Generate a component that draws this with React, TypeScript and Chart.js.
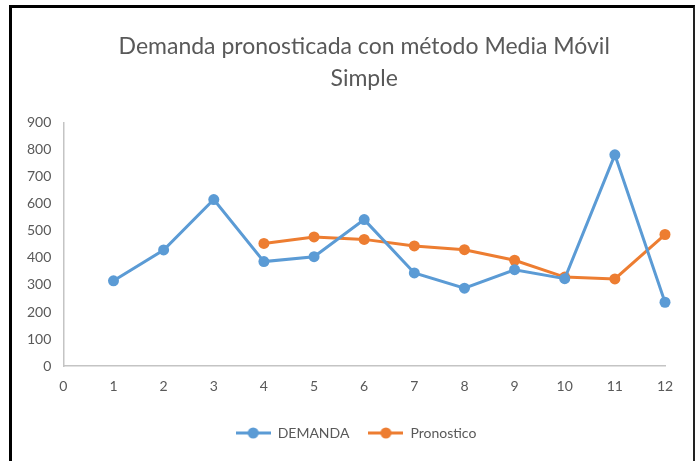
import { useEffect, useRef } from "react";
import { Chart, registerables } from "chart.js";

Chart.register(...registerables);

const periods = [1, 2, 3, 4, 5, 6, 7, 8, 9, 10, 11, 12];
const demanda = [315, 429, 615, 386, 404, 541, 344, 288, 356, 323, 780, 236];
const pronostico: (number | null)[] = [null, null, null, 453, 477, 468, 444, 430, 391, 329, 322, 486];
const titleLines = ["Demanda pronosticada con método Media Móvil", "Simple"];
const seriesNames = ["DEMANDA", "Pronostico"];

const BLUE = "#5B9BD5";
const ORANGE = "#ED7D31";
const TEXT = "#595959";
const AXIS = "#c4c4c4";
const FONT = "Lato, 'Open Sans', sans-serif";

function legendIcon(color: string) {
  const c = document.createElement("canvas");
  c.width = 35;
  c.height = 12;
  const ctx = c.getContext("2d")!;
  ctx.strokeStyle = color;
  ctx.lineWidth = 3;
  ctx.beginPath();
  ctx.moveTo(0, 6);
  ctx.lineTo(35, 6);
  ctx.stroke();
  ctx.fillStyle = color;
  ctx.beginPath();
  ctx.arc(17.5, 6, 5.5, 0, Math.PI * 2);
  ctx.fill();
  return c;
}

export default function App() {
  const ref = useRef<HTMLCanvasElement | null>(null);

  useEffect(() => {
    if (!ref.current) return;
    const icons = [legendIcon(BLUE), legendIcon(ORANGE)];
    const demandaPts = periods.map((p, i) => ({ x: p, y: demanda[i] }));
    const pronPts = periods
      .map((p, i) => ({ x: p, y: pronostico[i] }))
      .filter((d) => d.y !== null) as { x: number; y: number }[];

    const chart = new Chart(ref.current, {
      type: "line",
      data: {
        datasets: [
          {
            label: seriesNames[0],
            data: demandaPts,
            borderColor: BLUE,
            backgroundColor: BLUE,
            borderWidth: 3,
            pointRadius: 5.5,
            pointBorderWidth: 0,
            pointBackgroundColor: BLUE,
            tension: 0,
            clip: false as any,
          },
          {
            label: seriesNames[1],
            data: pronPts,
            borderColor: ORANGE,
            backgroundColor: ORANGE,
            borderWidth: 3,
            pointRadius: 5.5,
            pointBorderWidth: 0,
            pointBackgroundColor: ORANGE,
            tension: 0,
            clip: false as any,
          },
        ],
      },
      options: {
        animation: false,
        responsive: false,
        layout: { padding: { left: 3, right: 3, top: 0, bottom: 11 } },
        plugins: {
          title: {
            display: true,
            text: titleLines,
            fullSize: false,
            color: TEXT,
            font: { family: FONT, size: 23, weight: "normal", lineHeight: 1.42 },
            padding: { top: 22, bottom: 27 },
          },
          legend: {
            position: "bottom",
            fullSize: true,
            labels: {
              color: TEXT,
              font: { family: FONT, size: 14 },
              usePointStyle: true,
              pointStyleWidth: 35,
              padding: 19,
              generateLabels: (ch: any) =>
                ch.data.datasets.map((ds: any, i: number) => ({
                  text: ds.label,
                  fillStyle: ds.borderColor,
                  strokeStyle: ds.borderColor,
                  lineWidth: 0,
                  pointStyle: icons[i],
                  hidden: false,
                  datasetIndex: i,
                  fontColor: TEXT,
                })),
            },
          },
          tooltip: { enabled: false },
        },
        scales: {
          x: {
            type: "linear",
            min: 0,
            max: 12,
            ticks: { stepSize: 1, color: TEXT, font: { family: FONT, size: 14 }, padding: 12 },
            grid: { display: false, drawTicks: false },
            border: { color: AXIS, width: 1.5 },
          },
          y: {
            min: 0,
            max: 900,
            ticks: { stepSize: 100, color: TEXT, font: { family: FONT, size: 14 }, padding: 12 },
            grid: { display: false, drawTicks: false },
            border: { color: AXIS, width: 1.5 },
          },
          ySpace: {
            type: "linear",
            position: "right",
            display: true,
            min: 0,
            max: 900,
            ticks: { display: false },
            grid: { display: false, drawTicks: false },
            border: { display: false },
            afterFit: (scale: any) => {
              scale.width = 32;
            },
          } as any,
        },
      },
    });
    return () => chart.destroy();
  }, []);

  return (
    <div style={{ position: "fixed", left: 0, top: 0, width: 695, height: 461, overflow: "hidden", background: "#fff" }}>
      <div
        style={{
          position: "absolute",
          left: 9,
          top: 5,
          width: 681,
          height: 520,
          borderLeft: "3px solid #000",
          borderTop: "3px solid #000",
          borderRight: "2px solid #222",
        }}
      />
      <canvas ref={ref} width={688} height={453} style={{ position: "absolute", left: 12, top: 8, width: 688, height: 453 }} />
    </div>
  );
}
